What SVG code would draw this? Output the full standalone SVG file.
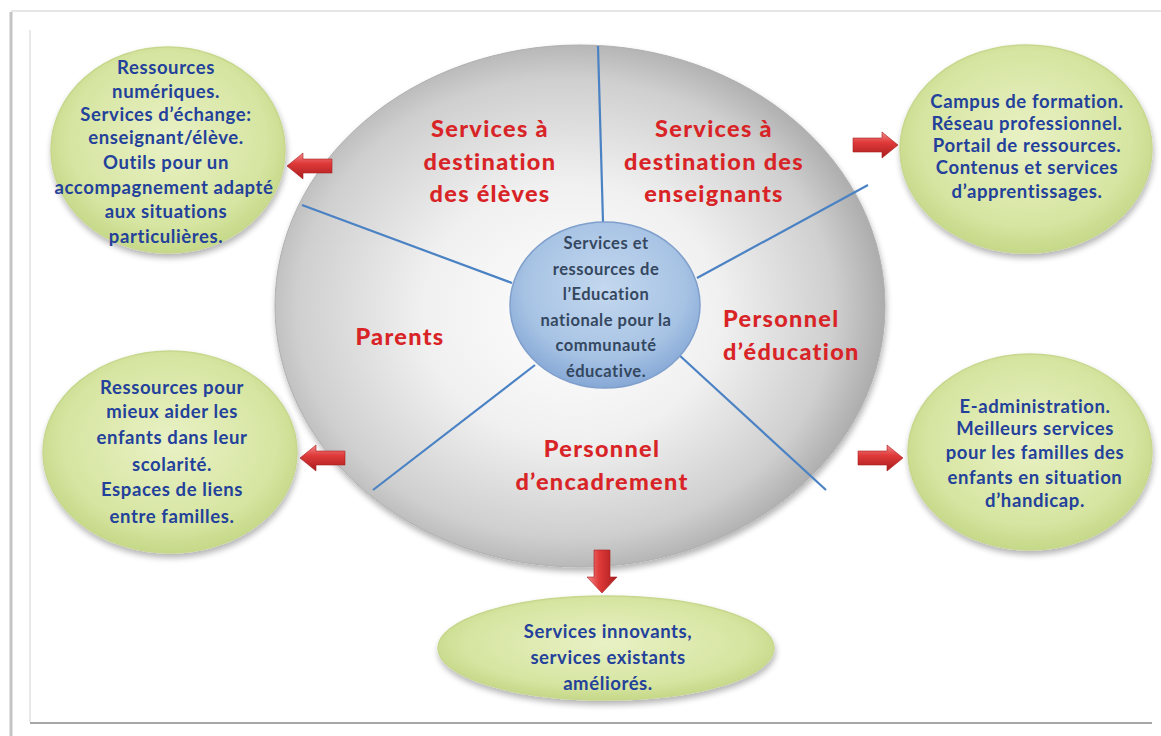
<svg xmlns="http://www.w3.org/2000/svg" width="1161" height="736" viewBox="0 0 1161 736">
<defs>
<style>
.lbl{font-family:Lato,"Open Sans","Liberation Sans",sans-serif;font-weight:900;font-size:23.5px;letter-spacing:1.3px;fill:#d92427;text-anchor:middle}
.gt{font-family:Lato,"Open Sans","Liberation Sans",sans-serif;font-weight:bold;font-size:18.5px;letter-spacing:0.6px;fill:#23419a;text-anchor:middle}
.ct{font-family:Lato,"Open Sans","Liberation Sans",sans-serif;font-weight:bold;font-size:16.5px;letter-spacing:0.5px;fill:#34475f;text-anchor:middle}
.green{fill:url(#gGreen);stroke:#c7d88e;stroke-width:1.5;filter:url(#sh)}
.div{stroke:#4a82c4;stroke-width:2.2;fill:none}
.arr{fill:url(#gRedH);stroke:#a81e1e;stroke-width:0.6}
.arrv{fill:url(#gRedV);stroke:#a81e1e;stroke-width:0.6}
</style>
<radialGradient id="gBig" cx="0.47" cy="0.5" r="0.55" fx="0.5" fy="0.52">
<stop offset="0" stop-color="#ffffff"/>
<stop offset="0.45" stop-color="#f0f0f0"/>
<stop offset="0.8" stop-color="#cfcfcf"/>
<stop offset="1" stop-color="#a4a4a4"/>
</radialGradient>
<radialGradient id="gGreen" cx="0.5" cy="0.45" r="0.6">
<stop offset="0" stop-color="#e9f1c5"/>
<stop offset="0.7" stop-color="#d6e5a1"/>
<stop offset="1" stop-color="#bfd37e"/>
</radialGradient>
<radialGradient id="gBlue" cx="0.5" cy="0.4" r="0.6">
<stop offset="0" stop-color="#c4d8ef"/>
<stop offset="0.7" stop-color="#a7c3e4"/>
<stop offset="1" stop-color="#86a8d6"/>
</radialGradient>
<linearGradient id="gRedH" x1="0" y1="0" x2="0" y2="1">
<stop offset="0" stop-color="#f08a8a"/>
<stop offset="0.4" stop-color="#e03a3a"/>
<stop offset="1" stop-color="#a81c1c"/>
</linearGradient>
<linearGradient id="gRedV" x1="0" y1="0" x2="1" y2="0">
<stop offset="0" stop-color="#f08a8a"/>
<stop offset="0.4" stop-color="#e03a3a"/>
<stop offset="1" stop-color="#a81c1c"/>
</linearGradient>
<filter id="sh" x="-10%" y="-10%" width="120%" height="125%">
<feGaussianBlur in="SourceAlpha" stdDeviation="3"/>
<feOffset dx="1" dy="4" result="b"/>
<feComponentTransfer><feFuncA type="linear" slope="0.3"/></feComponentTransfer>
<feMerge><feMergeNode/><feMergeNode in="SourceGraphic"/></feMerge>
</filter>
</defs>
<rect width="1161" height="736" fill="#ffffff"/>
<g id="frame">
<line x1="11" y1="11" x2="1161" y2="11" stroke="#e6e6e6" stroke-width="2"/>
<line x1="11" y1="12" x2="11" y2="736" stroke="#c4c4c4" stroke-width="3"/>
<line x1="30" y1="30" x2="30" y2="722" stroke="#e2e2e2" stroke-width="1.5"/>
<line x1="30" y1="723" x2="1152" y2="723" stroke="#a6a6a6" stroke-width="2"/>
</g>
<g id="hub">
<ellipse cx="580" cy="306" rx="305" ry="261" fill="url(#gBig)" stroke="#b0b0b0" stroke-width="1" filter="url(#sh)"/>
</g>
<g id="connectors">
<line class="div" x1="598" y1="46" x2="603" y2="222"/>
<line class="div" x1="302" y1="205" x2="512" y2="283"/>
<line class="div" x1="697" y1="278" x2="868" y2="185"/>
<line class="div" x1="373" y1="490" x2="535" y2="365"/>
<line class="div" x1="678" y1="354" x2="826" y2="490"/>
<path class="arr" d="M332 159 L303 159 L303 153 L287 166 L303 179 L303 173 L332 173 Z"/>
<path class="arr" d="M853 138 L882 138 L882 132 L898 145 L882 158 L882 152 L853 152 Z"/>
<path class="arr" d="M345 451 L316 451 L316 445 L300 458 L316 471 L316 465 L345 465 Z"/>
<path class="arr" d="M858 451 L887 451 L887 445 L903 458 L887 471 L887 465 L858 465 Z"/>
<path class="arrv" d="M594 550 L594 577 L587 577 L602 593 L617 577 L610 577 L610 550 Z"/>
</g>
<g id="center">
<ellipse cx="605" cy="305" rx="95" ry="83" fill="url(#gBlue)" stroke="#7f9fcc" stroke-width="1.5"/>
<text class="ct"><tspan x="606" y="249">Services et</tspan><tspan x="606" y="275">ressources de</tspan><tspan x="606" y="300">l’Education</tspan><tspan x="606" y="326">nationale pour la</tspan><tspan x="606" y="351">communauté</tspan><tspan x="606" y="377">éducative.</tspan></text>
</g>
<g id="seg-eleves">
<text class="lbl"><tspan x="490" y="137">Services à</tspan><tspan x="490" y="170">destination</tspan><tspan x="490" y="202">des élèves</tspan></text>
</g>
<g id="seg-enseignants">
<text class="lbl"><tspan x="714" y="137">Services à</tspan><tspan x="714" y="170">destination des</tspan><tspan x="714" y="202">enseignants</tspan></text>
</g>
<g id="seg-parents">
<text class="lbl"><tspan x="400" y="345">Parents</tspan></text>
</g>
<g id="seg-education">
<text class="lbl" style="text-anchor:start"><tspan x="723" y="327">Personnel</tspan><tspan x="723" y="360">d’éducation</tspan></text>
</g>
<g id="seg-encadrement">
<text class="lbl"><tspan x="602" y="457">Personnel</tspan><tspan x="602" y="490">d’encadrement</tspan></text>
</g>
<g id="out-eleves">
<ellipse class="green" cx="168" cy="150" rx="117" ry="103"/>
<text class="gt"><tspan x="166" y="74">Ressources</tspan><tspan x="166" y="98">numériques.</tspan><tspan x="166" y="121">Services d’échange:</tspan><tspan x="166" y="144">enseignant/élève.</tspan><tspan x="166" y="169">Outils pour  un</tspan><tspan x="164" y="194">accompagnement  adapté</tspan><tspan x="166" y="218">aux situations</tspan><tspan x="166" y="243">particulières.</tspan></text>
</g>
<g id="out-enseignants">
<ellipse class="green" cx="1026" cy="149" rx="126" ry="104"/>
<text class="gt"><tspan x="1027" y="108">Campus de formation.</tspan><tspan x="1027" y="130">Réseau professionnel.</tspan><tspan x="1027" y="152">Portail de ressources.</tspan><tspan x="1027" y="174">Contenus et services</tspan><tspan x="1027" y="198">d’apprentissages.</tspan></text>
</g>
<g id="out-parents">
<ellipse class="green" cx="170" cy="452" rx="127" ry="101"/>
<text class="gt"><tspan x="172" y="394">Ressources pour</tspan><tspan x="172" y="418">mieux aider les</tspan><tspan x="172" y="444">enfants dans leur</tspan><tspan x="172" y="471">scolarité.</tspan><tspan x="172" y="496">Espaces  de liens</tspan><tspan x="172" y="523">entre familles.</tspan></text>
</g>
<g id="out-education">
<ellipse class="green" cx="1030" cy="452" rx="122" ry="98"/>
<text class="gt"><tspan x="1035" y="413">E-administration.</tspan><tspan x="1035" y="435">Meilleurs services</tspan><tspan x="1035" y="459">pour les familles des</tspan><tspan x="1035" y="484">enfants en situation</tspan><tspan x="1035" y="507">d’handicap.</tspan></text>
</g>
<g id="out-encadrement">
<ellipse class="green" cx="606" cy="648" rx="168" ry="52"/>
<text class="gt"><tspan x="608" y="638">Services innovants,</tspan><tspan x="608" y="664">services existants</tspan><tspan x="608" y="690">améliorés.</tspan></text>
</g>
</svg>
